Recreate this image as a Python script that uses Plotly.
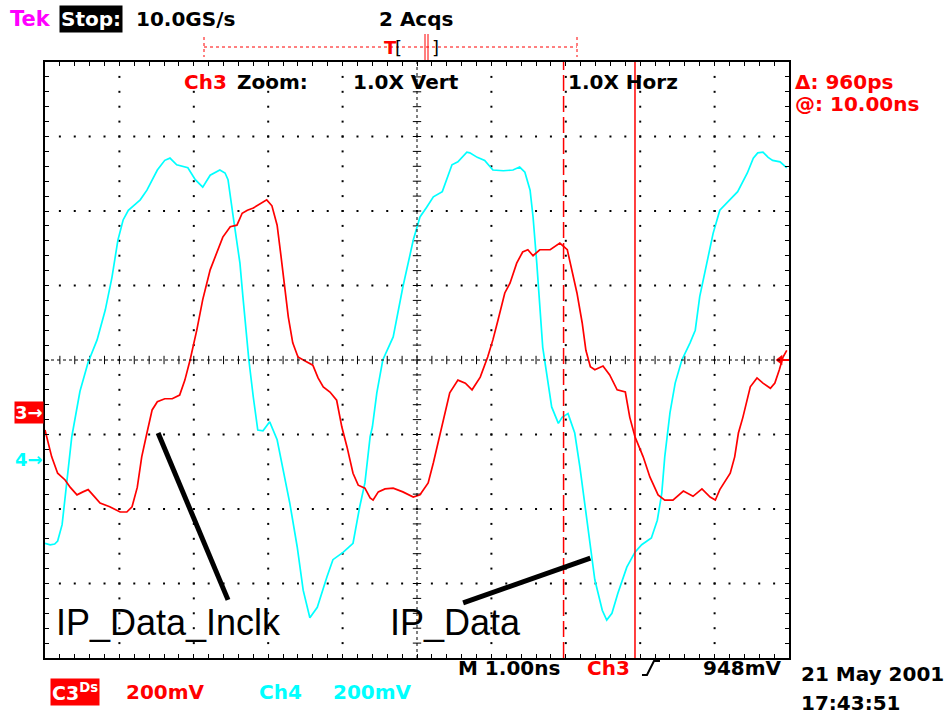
import plotly.graph_objects as go
import numpy as np

# ---------------- data (time in ns, amplitude in screen divisions) -------------
ch3_t = [0.00, 0.03, 0.09, 0.17, 0.27, 0.34, 0.43, 0.51, 0.58, 0.67,
         0.74, 0.87, 1.01, 1.10, 1.17, 1.24, 1.30, 1.37, 1.44, 1.51,
         1.61, 1.71, 1.81, 1.88, 1.95, 2.04, 2.12, 2.22, 2.31, 2.39,
         2.49, 2.58, 2.65, 2.72, 2.80, 2.92, 2.98, 3.05, 3.12, 3.17,
         3.21, 3.27, 3.33, 3.40, 3.49, 3.60, 3.67, 3.74, 3.83, 3.92,
         3.99, 4.06, 4.14, 4.21, 4.30, 4.37, 4.41, 4.48, 4.57, 4.68,
         4.81, 4.95, 5.04, 5.15, 5.22, 5.31, 5.44, 5.55, 5.65, 5.74,
         5.85, 5.95, 6.02, 6.09, 6.18, 6.25, 6.34, 6.42, 6.49, 6.56,
         6.65, 6.79, 6.88, 6.92, 7.02, 7.08, 7.15, 7.22, 7.27, 7.33,
         7.39, 7.50, 7.59, 7.69, 7.80, 7.86, 7.93, 8.04, 8.13, 8.24,
         8.33, 8.44, 8.58, 8.71, 8.83, 8.94, 9.01, 9.07, 9.21, 9.27,
         9.32, 9.38, 9.48, 9.57, 9.65, 9.75, 9.81, 9.87, 9.92, 9.97]
ch3_v = [-0.94, -1.07, -1.30, -1.52, -1.61, -1.71, -1.81, -1.77, -1.74, -1.84,
         -1.92, -1.97, -2.04, -2.04, -1.97, -1.71, -1.30, -0.98, -0.67, -0.56,
         -0.52, -0.52, -0.47, -0.27, 0.00, 0.40, 0.81, 1.21, 1.44, 1.65,
         1.79, 1.81, 1.97, 2.01, 2.04, 2.12, 2.15, 2.07, 1.81, 1.41,
         1.07, 0.58, 0.23, 0.04, -0.01, -0.07, -0.24, -0.36, -0.43, -0.54,
         -0.90, -1.17, -1.52, -1.68, -1.72, -1.85, -1.88, -1.77, -1.73, -1.72,
         -1.77, -1.84, -1.81, -1.65, -1.38, -0.98, -0.44, -0.27, -0.31, -0.40,
         -0.23, 0.04, 0.27, 0.54, 0.90, 1.03, 1.30, 1.45, 1.48, 1.40,
         1.48, 1.48, 1.54, 1.57, 1.48, 1.21, 0.90, 0.50, 0.13, -0.09,
         -0.13, -0.08, -0.20, -0.40, -0.43, -0.77, -1.03, -1.30, -1.57, -1.81,
         -1.88, -1.88, -1.76, -1.83, -1.73, -1.84, -1.88, -1.74, -1.52, -1.30,
         -0.98, -0.77, -0.36, -0.24, -0.31, -0.38, -0.31, -0.13, 0.04, 0.13]

ch4_t = [0.00, 0.07, 0.13, 0.17, 0.23, 0.28, 0.36, 0.47, 0.58, 0.70,
         0.81, 0.90, 0.98, 1.05, 1.12, 1.20, 1.28, 1.37, 1.44, 1.51,
         1.61, 1.68, 1.77, 1.92, 2.02, 2.12, 2.22, 2.35, 2.42, 2.46,
         2.53, 2.62, 2.66, 2.72, 2.74, 2.80, 2.86, 2.93, 3.02, 3.12,
         3.20, 3.29, 3.39, 3.47, 3.56, 3.66, 3.79, 3.87, 4.01, 4.14,
         4.23, 4.30, 4.37, 4.40, 4.46, 4.54, 4.68, 4.81, 4.95, 5.04,
         5.13, 5.22, 5.34, 5.47, 5.55, 5.67, 5.71, 5.81, 5.91, 6.02,
         6.16, 6.29, 6.38, 6.45, 6.52, 6.56, 6.61, 6.65, 6.69, 6.75,
         6.81, 6.90, 6.95, 7.03, 7.12, 7.19, 7.26, 7.33, 7.39, 7.49,
         7.55, 7.62, 7.70, 7.82, 7.93, 8.02, 8.15, 8.23, 8.29, 8.33,
         8.40, 8.47, 8.56, 8.67, 8.74, 8.80, 8.90, 8.98, 9.07, 9.17,
         9.31, 9.44, 9.52, 9.58, 9.65, 9.72, 9.78, 9.88, 9.97]
ch4_v = [-2.46, -2.48, -2.47, -2.43, -2.21, -1.74, -1.03, -0.42, -0.03, 0.27,
         0.67, 1.11, 1.61, 1.88, 2.01, 2.08, 2.15, 2.28, 2.42, 2.55,
         2.68, 2.71, 2.62, 2.58, 2.42, 2.32, 2.48, 2.55, 2.51, 2.42,
         1.92, 1.30, 0.85, 0.23, 0.00, -0.50, -0.94, -0.95, -0.83, -1.07,
         -1.48, -1.92, -2.51, -3.09, -3.46, -3.32, -2.91, -2.68, -2.58, -2.46,
         -1.97, -1.65, -1.03, -0.90, -0.44, 0.00, 0.31, 0.98, 1.61, 1.92,
         2.05, 2.19, 2.26, 2.62, 2.66, 2.79, 2.78, 2.72, 2.68, 2.55,
         2.54, 2.55, 2.59, 2.52, 2.28, 1.92, 1.30, 0.77, 0.17, -0.23,
         -0.63, -0.85, -0.77, -0.72, -0.98, -1.44, -1.97, -2.51, -2.95, -3.36,
         -3.49, -3.40, -3.13, -2.78, -2.58, -2.48, -2.39, -2.15, -1.79, -1.30,
         -0.71, -0.31, 0.00, 0.23, 0.40, 0.85, 1.30, 1.70, 2.01, 2.12,
         2.26, 2.51, 2.71, 2.78, 2.79, 2.72, 2.68, 2.66, 2.58]

cursor_dashed_ns = 6.97
cursor_solid_ns = 7.93
ch3_ground_div = -0.70
ch4_ground_div = -1.34
trigger_level_div = 0.0

label_names = ["IP_Data_Inclk", "IP_Data"]
label_t = [0.12, 4.61]
label_v = [-3.52, -3.52]
callout_start_t = [1.52, 5.62]
callout_start_v = [-0.98, -3.26]
callout_end_t = [2.46, 7.33]
callout_end_v = [-3.22, -2.66]

assert len(ch3_t) == len(ch3_v) and len(ch4_t) == len(ch4_v)

# ---------------- layout geometry ----------------
W, H = 950, 717
L, R, T, B = 45, 789, 62, 658
def xp(x):
    return (x - L) / (R - L)
def yp(y):
    return (B - y) / (B - T)

RED = "#ff0000"
CYAN = "#00ffff"
FONT = "DejaVu Sans"

fig = go.Figure()

# graticule dots on major lines
minor = np.round(np.arange(0, 10.001, 0.2), 3)
minor_y = np.round(np.arange(-4, 4.001, 0.2), 3)
gx, gy = [], []
for X in range(1, 10):
    if X == 5:
        continue
    for yy in minor_y[1:-1]:
        gx.append(X); gy.append(yy)
for Y in range(-3, 4):
    if Y == 0:
        continue
    for xx in minor[1:-1]:
        gx.append(xx); gy.append(Y)
fig.add_trace(go.Scatter(x=gx, y=gy, mode="markers",
                         marker=dict(symbol="square", size=2, color="black"),
                         hoverinfo="skip", showlegend=False))
# center-line ticks
fig.add_trace(go.Scatter(x=minor[1:-1], y=[0] * (len(minor) - 2), mode="markers",
                         marker=dict(symbol="line-ns", size=6,
                                     line=dict(width=1, color="black")),
                         hoverinfo="skip", showlegend=False))
fig.add_trace(go.Scatter(x=[5] * (len(minor_y) - 2), y=minor_y[1:-1], mode="markers",
                         marker=dict(symbol="line-ew", size=6,
                                     line=dict(width=1, color="black")),
                         hoverinfo="skip", showlegend=False))

fig.add_shape(type="line", x0=0, x1=10, y0=0, y1=0, xref="x", yref="y",
              line=dict(color="black", width=1, dash="dot"))
fig.add_shape(type="line", x0=5, x1=5, y0=-4, y1=4, xref="x", yref="y",
              line=dict(color="black", width=1, dash="dot"))

# cursors
fig.add_shape(type="line", x0=cursor_dashed_ns, x1=cursor_dashed_ns, y0=-4, y1=4,
              xref="x", yref="y", line=dict(color=RED, width=1.5, dash="16px,5px"))
fig.add_shape(type="line", x0=cursor_solid_ns, x1=cursor_solid_ns, y0=-4, y1=4,
              xref="x", yref="y", line=dict(color=RED, width=1.5))

# waveforms
fig.add_trace(go.Scatter(x=ch4_t, y=ch4_v, mode="lines",
                         line=dict(color=CYAN, width=1.7), showlegend=False))
fig.add_trace(go.Scatter(x=ch3_t, y=ch3_v, mode="lines",
                         line=dict(color=RED, width=1.7), showlegend=False))

# trigger level marker on the right edge
fig.add_trace(go.Scatter(x=[9.88], y=[trigger_level_div], mode="markers",
                         marker=dict(symbol="triangle-left", size=9, color=RED),
                         hoverinfo="skip", showlegend=False))
fig.add_shape(type="line", x0=9.88, x1=10, y0=trigger_level_div, y1=trigger_level_div,
              xref="x", yref="y", line=dict(color=RED, width=2))

# callout lines and labels
for i in range(len(label_names)):
    fig.add_shape(type="line", x0=callout_start_t[i], y0=callout_start_v[i],
                  x1=callout_end_t[i], y1=callout_end_v[i], xref="x", yref="y",
                  line=dict(color="black", width=5))
    fig.add_annotation(x=label_t[i], y=label_v[i], xref="x", yref="y",
                       text=label_names[i], showarrow=False,
                       xanchor="left", yanchor="middle",
                       font=dict(family="Liberation Sans", size=36, color="black"))

def txt(x, y, s, color="black", size=20, bg=None, anchor="left", family=FONT, pad=1,
        weight="bold"):
    fig.add_annotation(x=xp(x), y=yp(y), xref="paper", yref="paper", text=s,
                       showarrow=False, xanchor=anchor, yanchor="middle",
                       font=dict(family=family, size=size, color=color, weight=weight),
                       bgcolor=bg, borderpad=pad)

# header
txt(8, 19, "Tek", color="#ff00ff", size=21)
txt(59, 19, "Stop:", color="white", size=20, bg="black", pad=1)
txt(134, 19, "10.0GS/s", size=20)
txt(377, 19, "2 Acqs", size=20)

# trigger position bar
fig.add_shape(type="line", x0=xp(204), x1=xp(577), y0=yp(47), y1=yp(47),
              xref="paper", yref="paper", line=dict(color=RED, width=1, dash="dot"))
for xx in (204, 577):
    fig.add_shape(type="line", x0=xp(xx), x1=xp(xx), y0=yp(37), y1=yp(57),
                  xref="paper", yref="paper", line=dict(color=RED, width=1, dash="dot"))
for xx in (425, 428):
    fig.add_shape(type="line", x0=xp(xx), x1=xp(xx), y0=yp(34), y1=yp(60),
                  xref="paper", yref="paper", line=dict(color=RED, width=1))
txt(382, 47, "T", color=RED, size=18)
txt(393, 47, "[", size=18, weight="normal")
txt(430, 47, "]", size=18, weight="normal")

# in-graticule header
txt(182, 82, "Ch3", color=RED, size=20)
txt(235, 82, "Zoom:", size=20)
txt(351, 82, "1.0X Vert", size=20)
txt(566, 82, "1.0X Horz", size=20)
txt(793, 82, "Δ: 960ps", color=RED, size=20)
txt(793, 104, "@: 10.00ns", color=RED, size=20)

# channel ground markers
fig.add_annotation(x=xp(29), y=yp(360 - ch3_ground_div * 74.5), xref="paper", yref="paper",
                   text="3→", showarrow=False, xanchor="center", yanchor="middle",
                   font=dict(family=FONT, size=18, color="white", weight="bold"),
                   bgcolor=RED, borderpad=0)
fig.add_annotation(x=xp(29), y=yp(360 - ch4_ground_div * 74.5), xref="paper", yref="paper",
                   text="4→", showarrow=False, xanchor="center", yanchor="middle",
                   font=dict(family=FONT, size=18, color=CYAN, weight="bold"))

# footer
txt(456, 668, "M 1.00ns", size=20)
txt(585, 668, "Ch3", color=RED, size=20)
fig.add_shape(type="path", xref="paper", yref="paper",
              path="M {:.4f},{:.4f} L {:.4f},{:.4f} L {:.4f},{:.4f} L {:.4f},{:.4f}".format(
                  xp(642), yp(675), xp(647), yp(675), xp(654), yp(661), xp(660), yp(661)),
              line=dict(color="black", width=2))
txt(701, 668, "948mV", size=20)
txt(799, 674, "21 May 2001", size=20)
txt(799, 703, "17:43:51", size=20)
txt(50, 692, "C3<sup>Ds</sup>", color="white", size=19, bg=RED, pad=1)
txt(124, 692, "200mV", color=RED, size=20)
txt(257, 692, "Ch4", color=CYAN, size=20)
txt(331, 692, "200mV", color=CYAN, size=20)

axis_common = dict(showgrid=False, zeroline=False, showticklabels=False,
                   ticks="inside", ticklen=4, tickcolor="black", tickwidth=1,
                   showline=True, linecolor="black", linewidth=2, mirror="ticks",
                   fixedrange=True)
fig.update_layout(
    width=W, height=H,
    margin=dict(l=L, r=W - R, t=T, b=H - B, pad=0),
    paper_bgcolor="white", plot_bgcolor="white",
    xaxis=dict(range=[0, 10], dtick=0.2, tick0=0, **axis_common),
    yaxis=dict(range=[-4, 4], dtick=0.2, tick0=0, **axis_common),
    showlegend=False,
)

fig.write_html("out.html", config={"displayModeBar": False},
               post_script="document.body.style.margin='0';document.body.style.overflow='hidden';")
